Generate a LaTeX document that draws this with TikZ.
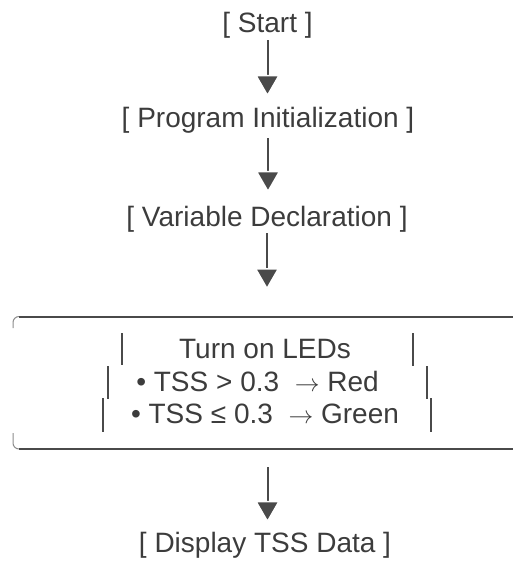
\documentclass[tikz,border=0pt]{standalone}
\usepackage{fontspec}
\setmainfont{Liberation Sans}
\usetikzlibrary{arrows.meta}

\definecolor{inkgray}{HTML}{3C3C3C}
\definecolor{linegray}{HTML}{4A4A4A}
\definecolor{cornergray}{HTML}{8C8C8C}

\begin{document}
\begin{tikzpicture}[
      x=1bp, y=-1bp,
      steptext/.style={
         anchor=base,
         inner sep=0pt,
         text=inkgray,
         font=\fontsize{28bp}{32bp}\selectfont},
      myarrow/.style={
         draw=linegray,
         line width=2bp,
         -{Triangle[width=25bp,length=22bp,color=white,fill=linegray,line width=1.5bp]}},
      barline/.style={draw=linegray, line width=2bp},
      cornerline/.style={draw=cornergray, line width=1bp}
      ]
      \useasboundingbox (0,0) rectangle (513,563);

      \node[steptext] (start) at (267.5,33) {[ Start ]};
      \node[steptext] (init) at (268,128) {[ Program Initialization ]};
      \node[steptext] (decl) at (267,226) {[ Variable Declaration ]};
      \node[steptext] (leds) at (265,358) {Turn on LEDs};
      \node[steptext] (ledred) at (257.5,391) {• TSS > 0.3\ \ $\rightarrow$\ Red};
      \node[steptext] (ledgreen) at (265,423) {• TSS ≤ 0.3\ \ $\rightarrow$\ Green};
      \node[steptext] (disp) at (265,552) {[ Display TSS Data ]};

      \coordinate (boxtop) at (267.5,316.5);
      \coordinate (boxbot) at (267.5,449);

      % box edges, open to the right
      \draw[barline] (513,316.5) -- (19,316.5);
      \draw[cornerline] (19,316.5) arc[start angle=270,end angle=180,radius=6] -- (13,328);
      \draw[cornerline] (13,433) -- (13,443) arc[start angle=180,end angle=90,radius=6];
      \draw[barline] (19,449) -- (513,449);

      % side bars of the box lines
      \foreach \x/\ya/\yb in {121.7/333/365, 413/333/366,
                              108/366/399, 426.7/366/399,
                              102.7/398/432, 431/398/432}
        \draw[barline] (\x,\ya) -- (\x,\yb);

      \foreach \i/\j/\a/\b in {% from/to/shorten start/shorten end
        start/init/1.1/10.6,
        init/decl/4/12.6}
        \draw[myarrow, shorten <=\a bp, shorten >=\b bp] (\i.south) -- (\i.south |- \j.north);
      \draw[myarrow, shorten <=1.1bp, shorten >=26.5bp] (decl.south) -- (decl.south |- boxtop);
      \draw[myarrow, shorten <=18bp, shorten >=8.6bp] (boxbot) -- (boxbot |- disp.north);

    \end{tikzpicture}
\end{document}
